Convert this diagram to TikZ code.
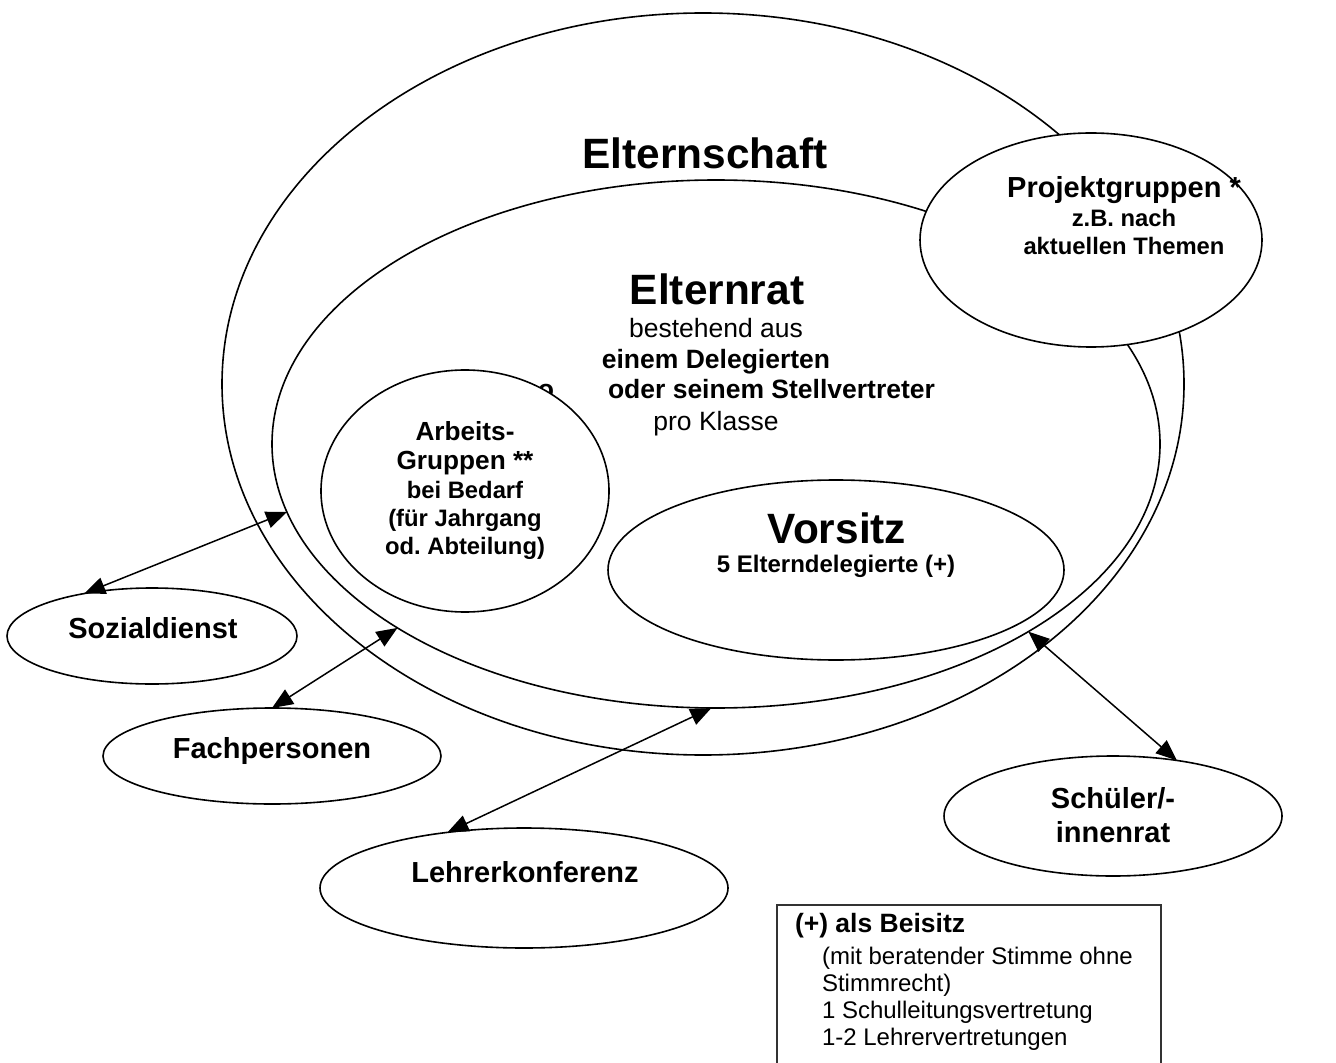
\documentclass[tikz,border=0pt]{standalone}
\usepackage{fontspec}
\setmainfont{Liberation Sans}
\usetikzlibrary{shapes.geometric,arrows.meta}
\frenchspacing
\begin{document}
\begin{tikzpicture}[x=0.5pt,y=-0.5pt,
  line width=0.8pt,
  oval/.style={draw, ellipse, inner sep=0pt, outer sep=0pt},
  wht/.style={fill=white},
  txt/.style={anchor=base, inner sep=0pt, outer sep=0pt},
  huge/.style={font=\bfseries\fontsize{21.2}{24}\selectfont},
  bigb/.style={font=\bfseries\fontsize{14.5}{17}\selectfont},
  midb/.style={font=\bfseries\fontsize{13.25}{15}\selectfont},
  midr/.style={font=\fontsize{13.25}{15}\selectfont},
  smlb/.style={font=\bfseries\fontsize{11.9}{14}\selectfont},
  legr/.style={font=\fontsize{12}{14}\selectfont},
  link/.style={{Triangle[length=10.5pt,width=8.5pt]}-{Triangle[length=10.5pt,width=8.5pt]}, line width=0.75pt},
]
\useasboundingbox (0,0) rectangle (1336,1063);

% main nested ellipses
\node[oval, minimum width=481pt, minimum height=371pt] (elternschaft) at (703,384) {};
\node[oval, minimum width=444pt, minimum height=264pt] (elternrat) at (716,444) {};

% partly hidden text fragment
\node[txt, anchor=base east, midb] (stray) at (554,399) {o};

% inner groups
\node[oval, wht, minimum width=144pt, minimum height=121pt] (arbeit) at (465,491) {};
\node[oval, wht, minimum width=228pt, minimum height=90pt] (vorsitz) at (836,570) {};
\node[oval, wht, minimum width=171pt, minimum height=107pt] (projekt) at (1091,240) {};

% outside ellipses
\node[oval, minimum width=145pt, minimum height=48pt] (sozial) at (152,636) {};
\node[oval, minimum width=169pt, minimum height=48pt] (fach) at (272,756) {};
\node[oval, minimum width=204pt, minimum height=60pt] (lehrer) at (524,888) {};
\node[oval, minimum width=169pt, minimum height=60pt] (schueler) at (1113,816) {};

% texts
\node[txt, huge] (t-elternschaft) at (705,169) {Elternschaft};
\node[txt, huge] (t-elternrat) at (717,305) {Elternrat};
\node[txt, midr] (t-er1) at (716,338) {bestehend aus};
\node[txt, midb] (t-er2) at (716,369) {einem Delegierten};
\node[txt, anchor=base west, midb] (t-er3) at (608,399) {oder seinem Stellvertreter};
\node[txt, midr] (t-er4) at (716,430) {pro Klasse};

\node[txt, font=\bfseries\fontsize{13.1}{15}\selectfont] (t-ag1) at (465,440) {Arbeits-};
\node[txt, font=\bfseries\fontsize{13.1}{15}\selectfont] (t-ag2) at (465,469) {Gruppen **};
\node[txt, smlb] (t-ag3) at (465,498) {bei Bedarf};
\node[txt, smlb] (t-ag4) at (465,526) {(für Jahrgang};
\node[txt, smlb] (t-ag5) at (465,554) {od. Abteilung)};

\node[txt, huge] (t-vorsitz) at (837,543) {Vorsitz};
\node[txt, font=\bfseries\fontsize{12}{14}\selectfont] (t-vs1) at (836,572) {5 Elterndelegierte (+)};

\node[txt, bigb] (t-projekt) at (1124,198) {Projektgruppen *};
\node[txt, smlb] (t-pg1) at (1124,227) {z.B. nach};
\node[txt, smlb] (t-pg2) at (1124,255) {aktuellen Themen};

\node[txt, bigb] (t-sozial) at (153,638) {Sozialdienst};
\node[txt, bigb] (t-fach) at (272,758) {Fachpersonen};
\node[txt, bigb] (t-lehrer) at (525,882) {Lehrerkonferenz};
\node[txt, bigb] (t-sch1) at (1113,808) {Schüler/-};
\node[txt, bigb] (t-sch2) at (1113,842) {innenrat};

% connectors
\draw[link] (sozial.148) -- (elternrat.189.4);
\draw[link] (fach.north) -- (elternrat.210.8);
\draw[link] (lehrer.144) -- (elternrat.269);
\draw[link] (schueler.41.5) -- (elternrat.329.25);

% legend box (runs past the lower edge)
\draw[line width=0.7pt, draw=black!80] (777,1070) -- (777,905) -- (1161,905) -- (1161,1070);
\node[txt, anchor=base west, midb] (l1) at (795,932) {(+) als Beisitz};
\node[txt, anchor=base west, legr] (l2) at (822,964) {(mit beratender Stimme ohne};
\node[txt, anchor=base west, legr] (l3) at (822,991) {Stimmrecht)};
\node[txt, anchor=base west, legr] (l4) at (822,1018) {1 Schulleitungsvertretung};
\node[txt, anchor=base west, legr] (l5) at (822,1045) {1-2 Lehrervertretungen};
\end{tikzpicture}
\end{document}
